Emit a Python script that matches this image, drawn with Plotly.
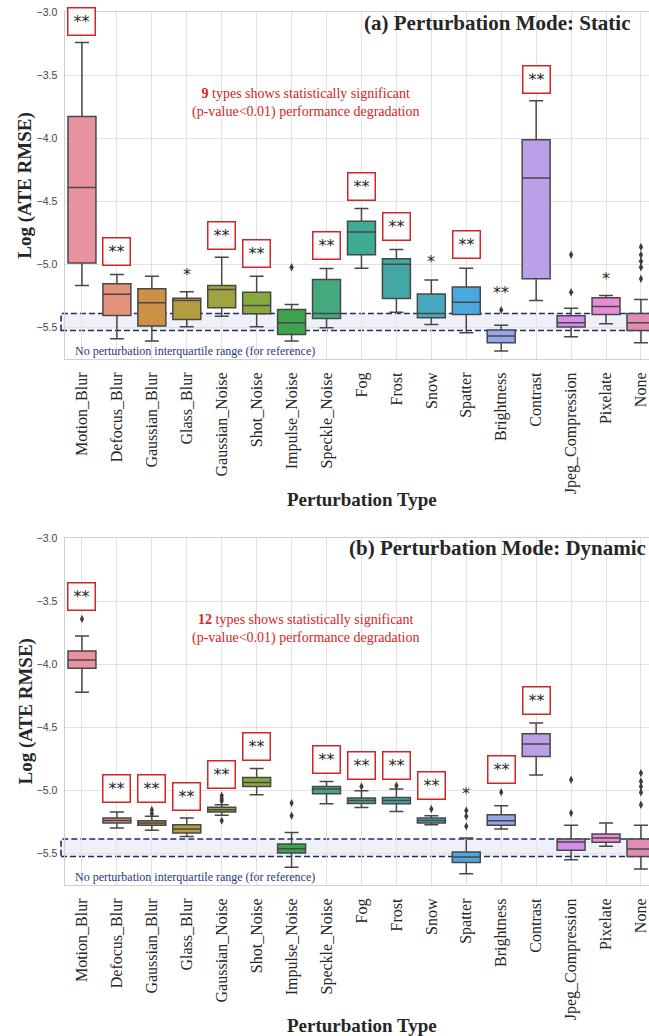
import plotly.graph_objects as go

# perturbation categories (x axis order)
categories = ["Motion_Blur", "Defocus_Blur", "Gaussian_Blur", "Glass_Blur", "Gaussian_Noise",
              "Shot_Noise", "Impulse_Noise", "Speckle_Noise", "Fog", "Frost", "Snow", "Spatter",
              "Brightness", "Contrast", "Jpeg_Compression", "Pixelate", "None"]

box_colors = ["#e8939f", "#e3937a", "#cd9146", "#b69d40", "#a0a340", "#88a840", "#3ea34a",
              "#44aa7d", "#41aa94", "#43a7a5", "#48a8be", "#4ba8dc", "#96a5e8", "#bba0e8",
              "#d58fe8", "#e88cd7", "#e18cb4"]

# ---- (a) static: box stats, log(ATE RMSE) ----
static_low = [-5.167, -5.589, -5.608, -5.494, -5.410, -5.494, -5.608, -5.502, -5.030, -5.380,
              -5.476, -5.542, -5.687, -5.286, -5.573, -5.471, -5.621]
static_q1 = [-4.988, -5.405, -5.489, -5.436, -5.344, -5.391, -5.555, -5.428, -4.924, -5.271,
             -5.423, -5.397, -5.621, -5.114, -5.497, -5.397, -5.524]
static_med = [-4.389, -5.236, -5.304, -5.286, -5.199, -5.325, -5.462, -5.390, -4.742, -4.998,
              -5.390, -5.300, -5.567, -4.314, -5.462, -5.333, -5.462]
static_q3 = [-3.827, -5.154, -5.193, -5.268, -5.167, -5.220, -5.357, -5.120, -4.658, -4.955,
             -5.235, -5.178, -5.520, -4.011, -5.407, -5.264, -5.389]
static_high = [-3.240, -5.080, -5.093, -5.217, -4.942, -5.093, -5.318, -5.032, -4.557, -4.882,
               -5.124, -5.030, -5.482, -3.702, -5.347, -5.246, -5.278]
static_out_x = ["Impulse_Noise", "Brightness", "Jpeg_Compression", "Jpeg_Compression",
                "None", "None", "None", "None", "None"]
static_out_y = [-5.022, -5.362, -5.220, -4.924, -5.114, -5.022, -4.975, -4.924, -4.861]

# significance marks: category, label, y, boxed
static_sig_x = ["Motion_Blur", "Defocus_Blur", "Glass_Blur", "Gaussian_Noise", "Shot_Noise",
                "Speckle_Noise", "Fog", "Frost", "Snow", "Spatter", "Brightness", "Contrast", "Pixelate"]
static_sig_text = ["**", "**", "*", "**", "**", "**", "**", "**", "*", "**", "**", "**", "*"]
static_sig_y = [-3.07, -4.90, -5.046, -4.769, -4.916, -4.853, -4.381, -4.698, -4.948, -4.843,
                -5.193, -3.53, -5.08]
static_sig_boxed = [True, True, False, True, True, True, True, True, False, True, False, True, False]
static_n_sig = 9

# ---- (b) dynamic ----
dyn_low = [-4.222, -5.299, -5.317, -5.365, -5.198, -5.035, -5.610, -5.106, -5.135, -5.167,
           -5.272, -5.660, -5.307, -4.879, -5.549, -5.443, -5.623]
dyn_q1 = [-4.032, -5.259, -5.277, -5.338, -5.172, -4.969, -5.496, -5.027, -5.104, -5.106,
          -5.259, -5.571, -5.277, -4.732, -5.475, -5.412, -5.524]
dyn_med = [-3.966, -5.238, -5.259, -5.307, -5.153, -4.937, -5.462, -4.990, -5.080, -5.080,
           -5.238, -5.528, -5.240, -4.633, -5.409, -5.377, -5.465]
dyn_q3 = [-3.895, -5.220, -5.240, -5.272, -5.133, -4.898, -5.425, -4.969, -5.061, -5.056,
          -5.219, -5.489, -5.193, -4.552, -5.386, -5.346, -5.386]
dyn_high = [-3.776, -5.172, -5.205, -5.220, -5.114, -4.827, -5.333, -4.929, -5.003, -4.990,
            -5.201, -5.377, -5.122, -4.467, -5.277, -5.259, -5.277]
dyn_out_x = ["Motion_Blur", "Gaussian_Blur", "Gaussian_Blur", "Gaussian_Noise", "Gaussian_Noise",
             "Gaussian_Noise", "Gaussian_Noise", "Impulse_Noise", "Impulse_Noise", "Fog", "Frost",
             "Snow", "Spatter", "Spatter", "Spatter", "Brightness", "Jpeg_Compression",
             "Jpeg_Compression", "None", "None", "None", "None", "None"]
dyn_out_y = [-3.641, -5.185, -5.155, -5.043, -5.066, -5.084, -5.240, -5.201, -5.101, -4.969,
             -4.963, -5.148, -5.285, -5.206, -5.159, -5.014, -5.180, -4.916, -5.114, -5.016,
             -4.969, -4.929, -4.863]

dyn_sig_x = ["Motion_Blur", "Defocus_Blur", "Gaussian_Blur", "Glass_Blur", "Gaussian_Noise",
             "Shot_Noise", "Speckle_Noise", "Fog", "Frost", "Snow", "Spatter", "Brightness", "Contrast"]
dyn_sig_text = ["**", "**", "**", "**", "**", "**", "**", "**", "**", "**", "*", "**", "**"]
dyn_sig_y = [-3.465, -4.982, -4.982, -5.045, -4.877, -4.652, -4.758, -4.80, -4.80, -4.961,
             -4.995, -4.837, -4.29]
dyn_sig_boxed = [True, True, True, True, True, True, True, True, True, True, False, True, True]
dyn_n_sig = 12

panels = [
    dict(xa="x", ya="y", low=static_low, q1=static_q1, med=static_med, q3=static_q3, high=static_high,
         out_x=static_out_x, out_y=static_out_y, sig_x=static_sig_x, sig_t=static_sig_text,
         sig_y=static_sig_y, sig_b=static_sig_boxed, n_sig=static_n_sig,
         title="(a) Perturbation Mode: Static", xtitle_y=1 - 500 / 1036),
    dict(xa="x2", ya="y2", low=dyn_low, q1=dyn_q1, med=dyn_med, q3=dyn_q3, high=dyn_high,
         out_x=dyn_out_x, out_y=dyn_out_y, sig_x=dyn_sig_x, sig_t=dyn_sig_text,
         sig_y=dyn_sig_y, sig_b=dyn_sig_boxed, n_sig=dyn_n_sig,
         title="(b) Perturbation Mode: Dynamic", xtitle_y=1 - 1025 / 1036),
]

SERIF = "Liberation Serif, Times New Roman, serif"
SANS = "Liberation Sans, Arial, sans-serif"
W, H = 649, 1036

fig = go.Figure()

for p in panels:
    for i, cat in enumerate(categories):
        fig.add_trace(go.Box(
            x=[cat], q1=[p["q1"][i]], median=[p["med"][i]], q3=[p["q3"][i]],
            lowerfence=[p["low"][i]], upperfence=[p["high"][i]],
            fillcolor=box_colors[i], line=dict(color="#474747", width=1.5),
            width=0.8, whiskerwidth=0.5, boxpoints=False, showlegend=False,
            xaxis=p["xa"], yaxis=p["ya"]))
    fig.add_trace(go.Scatter(
        x=p["out_x"], y=p["out_y"], mode="markers", showlegend=False,
        marker=dict(symbol="diamond-tall", size=6, color="#3c3c3c"),
        xaxis=p["xa"], yaxis=p["ya"]))

    # reference band = IQR of "None"
    none_i = categories.index("None")
    fig.add_shape(type="rect", xref="paper", yref=p["ya"],
                  x0=61 / W, x1=1.05, y0=p["q1"][none_i], y1=p["q3"][none_i],
                  fillcolor="rgba(60,80,160,0.08)",
                  line=dict(color="#1b2f6b", width=1.6, dash="6px,3px"), layer="below")
    fig.add_annotation(xref="paper", yref=p["ya"], x=73 / W, y=-5.69, xanchor="left",
                       text="No perturbation interquartile range (for reference)", showarrow=False,
                       font=dict(family=SERIF, size=12, color="#1f3a80"))

    for cx, t, yv, bx in zip(p["sig_x"], p["sig_t"], p["sig_y"], p["sig_b"]):
        kw = dict(bordercolor="#d42424", borderwidth=1.5, borderpad=2, bgcolor="white",
                  width=22, height=22) if bx else dict(yshift=-4)
        fig.add_annotation(xref=p["xa"], yref=p["ya"], x=cx, y=yv, text=t, showarrow=False,
                           xanchor="center", yanchor="middle",
                           font=dict(family="DejaVu Sans", size=16, color="#262626"), **kw)

    fig.add_annotation(xref=p["xa"], yref=p["ya"], x=6.41, y=-3.72, showarrow=False,
                       xanchor="center", yanchor="middle",
                       text="<b>%d</b> types shows statistically significant<br>"
                            "(p-value&lt;0.01) performance degradation" % p["n_sig"],
                       font=dict(family=SERIF, size=14, color="#d42424"))
    fig.add_annotation(xref="paper", yref=p["ya"], x=497 / W, y=-3.082, showarrow=False,
                       xanchor="center", yanchor="middle",
                       text="<b>%s</b>" % p["title"],
                       font=dict(family=SERIF, size=21, color="#262626"))
    fig.add_annotation(xref="paper", yref=p["ya"] + " domain", x=25 / W, y=0.5, showarrow=False,
                       xanchor="center", yanchor="middle",
                       textangle=-90, text="<b>Log (ATE RMSE)</b>",
                       font=dict(family=SERIF, size=19, color="#262626"))
    fig.add_annotation(xref="paper", yref="paper", x=362 / W, y=p["xtitle_y"], showarrow=False,
                       xanchor="center", yanchor="middle",
                       text="<b>Perturbation Type</b>",
                       font=dict(family=SERIF, size=19, color="#262626"))

xax = dict(type="category", categoryorder="array", categoryarray=categories,
           range=[-0.5, 16.23], domain=[64.5 / W, 1], showgrid=True, gridcolor="#e2e2e2",
           showline=True, linecolor="#cfcfcf", linewidth=1.2, mirror=True, automargin=False,
           tickangle=-90, ticks="", ticklabelstandoff=6,
           tickfont=dict(family=SERIF, size=16, color="#262626"))
yax = dict(range=[-5.75, -3.0], tickvals=[-5.5, -5.0, -4.5, -4.0, -3.5, -3.0], tickformat=".1f",
           showgrid=True, gridcolor="#e2e2e2", zeroline=False, showline=True, automargin=False,
           linecolor="#cfcfcf", linewidth=1.2, mirror=True, ticks="", ticklabelstandoff=4,
           tickfont=dict(family=SANS, size=10.5, color="#444444"))

fig.update_layout(
    width=W, height=H, margin=dict(l=0, r=0, t=0, b=0),
    paper_bgcolor="white", plot_bgcolor="white", boxmode="overlay",
    xaxis=dict(xax, anchor="y"),
    yaxis=dict(yax, anchor="x", domain=[1 - 359 / H, 1 - 12.3 / H]),
    xaxis2=dict(xax, anchor="y2"),
    yaxis2=dict(yax, anchor="x2", domain=[1 - 885 / H, 1 - 538 / H]),
)

# drop the default page margin so the figure sits at the window's corner
fig.write_html("out.html", config={"displayModeBar": False},
               post_script="document.body.style.margin='0';")
